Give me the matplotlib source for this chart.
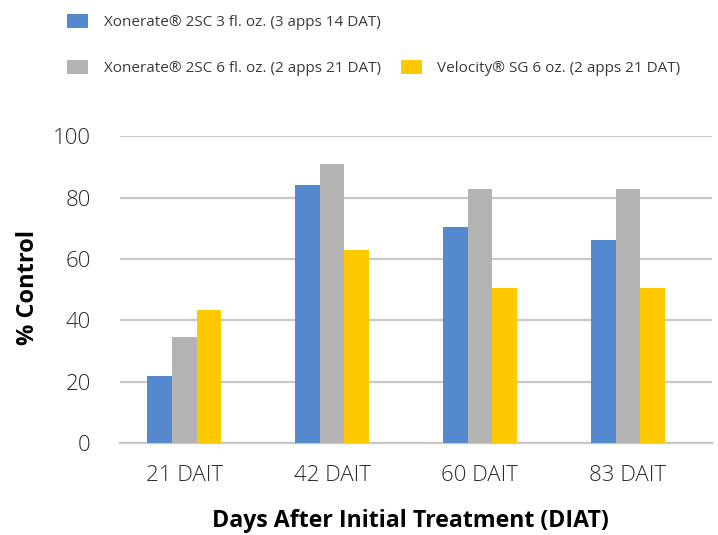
import matplotlib
matplotlib.use('Agg')
import matplotlib.pyplot as plt
import numpy as np
from matplotlib.patches import Rectangle

# chart data
categories = ['21 DAIT', '42 DAIT', '60 DAIT', '83 DAIT']
series_names = ['Xonerate® 2SC 3 fl. oz. (3 apps 14 DAT)',
                'Xonerate® 2SC 6 fl. oz. (2 apps 21 DAT)',
                'Velocity® SG 6 oz. (2 apps 21 DAT)']
xon_3oz = [22.0, 84.3, 70.3, 66.1]
xon_6oz = [34.7, 91.1, 83.0, 83.0]
velocity = [43.4, 62.9, 50.6, 50.6]
colors = ['#5589CE', '#B3B3B3', '#FFC900']

plt.rcParams['font.family'] = ['Open Sans', 'DejaVu Sans']
fsize = 16
txt_color = '#2B2B2B'

fig = plt.figure(figsize=(7.18, 5.35), dpi=100)
ax = fig.add_axes([0.167, 0.172, 0.825, 0.573])

x = np.arange(len(categories))
width = 0.166
handles = []
for i, (vals, name) in enumerate(zip([xon_3oz, xon_6oz, velocity], series_names)):
    b = ax.bar(x + (i - 1) * width, vals, width, color=colors[i], label=name, zorder=3)
    handles.append(b)

ax.set_ylim(0, 100)
ax.set_xlim(-0.435, 3.571)
ax.set_yticks(range(0, 101, 20))
ax.yaxis.grid(True, color='#C8C8C8', linewidth=1.6, zorder=0)
for s in ['top', 'right', 'left']:
    ax.spines[s].set_visible(False)
ax.spines['bottom'].set_color('#C8C8C8')
ax.spines['bottom'].set_linewidth(1.6)
ax.tick_params(axis='both', length=0, labelsize=fsize, labelcolor=txt_color)
ax.tick_params(axis='x', pad=16)
ax.tick_params(axis='y', pad=21)
ax.set_xticks(x)
ax.set_xticklabels(categories, fontweight='light')
for lbl in ax.get_yticklabels():
    lbl.set_fontweight('light')

# axis titles at fixed spots
ax.set_ylabel('% Control', fontsize=17, fontweight='bold', color='black', va='center')
ax.yaxis.set_label_coords(-0.155, 0.506)
ax.set_xlabel('Days After Initial Treatment (DIAT)', fontsize=16.7, fontweight='bold',
              color='black', va='center')
ax.xaxis.set_label_coords(0.49, -0.254)

# legend: first series alone on row 1, other two on row 2
blank = Rectangle((0, 0), 1, 1, visible=False)
fig.legend([handles[0], handles[1], blank, handles[2]],
           [series_names[0], series_names[1], '', series_names[2]],
           ncol=2, loc='upper left', bbox_to_anchor=(67 / 718, 1 - 14 / 535),
           frameon=False, fontsize=11, labelcolor='#3A3A3A', borderpad=0,
           borderaxespad=0, handlelength=1.4, handleheight=1.0,
           handletextpad=1.0, columnspacing=1.3, labelspacing=1.95)

fig.savefig('out.png', dpi=100)
